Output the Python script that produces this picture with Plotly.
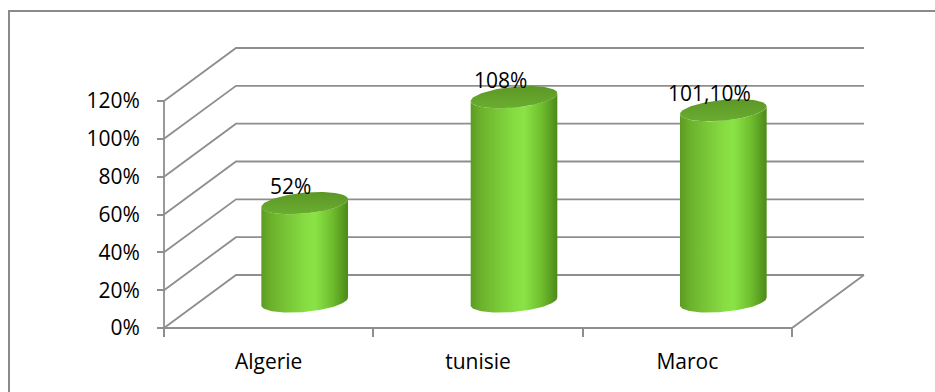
import numpy as np
import plotly.graph_objects as go

# ---- data ----
categories = ["Algerie", "tunisie", "Maroc"]
values = [0.52, 1.08, 1.011]
value_labels = ["52%", "108%", "101,10%"]
tick_values = [0.0, 0.2, 0.4, 0.6, 0.8, 1.0, 1.2]
tick_labels = ["0%", "20%", "40%", "60%", "80%", "100%", "120%"]

# ---- page / projection setup (pixels) ----
W, H = 935, 392
PLOT_L, PLOT_R, PLOT_T, PLOT_B = 150, 880, 30, 345   # plotting box
X0, SX = 164.0, 628.0 / 3.0      # pixel of x=-0.5 and pixels per category
Y0, SY = 328.0, 227.0 / 1.2      # pixel of 0% and pixels per 100%
DEPTH_PX = (72.0, 53.0)          # oblique offset of the back wall

DX = DEPTH_PX[0] / SX            # depth offset in x data units
DV = DEPTH_PX[1] / SY            # depth offset in value units

x_range = [-0.5 - (X0 - PLOT_L) / SX, -0.5 + (PLOT_R - X0) / SX]
y_range = [-(PLOT_B - Y0) / SY, (Y0 - PLOT_T) / SY]

n = len(categories)
x_lo, x_hi = -0.5, n - 0.5
v_max = tick_values[-1]

GRID = "#8e8e8e"
FONT = dict(family="Open Sans, Noto Sans, sans-serif", size=21, color="#000000")

fig = go.Figure()

# ---- walls, floor and grid ----
gx, gy = [], []
for v in tick_values:
    gx += [x_lo, x_lo + DX, x_hi + DX, None]
    gy += [v, v + DV, v + DV, None]
gx += [x_lo, x_hi, x_hi + DX, None, x_lo, x_lo]
gy += [0, 0, DV, None, 0, v_max]
fig.add_trace(go.Scatter(x=gx, y=gy, mode="lines",
                         line=dict(color=GRID, width=1.8),
                         hoverinfo="skip", showlegend=False))

# ---- cylinders ----
R_X = 40.6 / SX          # half width of a cylinder (x units)
R_D = 0.21               # cylinder radius as a fraction of the floor depth
CX, CV = R_D * DX, R_D * DV
theta0 = np.arctan2(CX, R_X)

def ellipse(cx, cv, t):
    return cx + R_X * np.cos(t) + CX * np.sin(t), cv + CV * np.sin(t)

body_scale = [[0.0, "#5c9b22"], [0.12, "#6cb22c"], [0.5, "#86dc42"],
              [0.62, "#8ae346"], [0.82, "#6fbd2e"], [1.0, "#4c8a18"]]

for i, val in enumerate(values):
    cx = i + DX / 2
    v_base = DV / 2
    v_top = val + DV / 2

    t_front = np.linspace(theta0, theta0 - np.pi, 80)
    bx, by = ellipse(cx, v_base, t_front)
    tx, ty = ellipse(cx, v_top, t_front[::-1])
    fig.add_trace(go.Scatter(
        x=np.concatenate([bx, tx, bx[:1]]),
        y=np.concatenate([by, ty, by[:1]]),
        mode="lines", fill="toself", line=dict(width=0, color="rgba(0,0,0,0)"),
        fillgradient=dict(type="horizontal", colorscale=body_scale),
        hoverinfo="skip", showlegend=False))

    t_all = np.linspace(0, 2 * np.pi, 120)
    cxs, cys = ellipse(cx, v_top, t_all)
    fig.add_trace(go.Scatter(
        x=cxs, y=cys, mode="lines", fill="toself",
        line=dict(width=0, color="rgba(0,0,0,0)"),
        fillgradient=dict(type="vertical",
                          colorscale=[[0, "#6aad30"], [0.5, "#63a22b"], [1, "#5c9726"]]),
        hoverinfo="skip", showlegend=False))

    fig.add_annotation(x=cx, y=v_top, xref="x", yref="y", text=value_labels[i],
                       showarrow=False, xshift=-14, yshift=17,
                       xanchor="center", yanchor="middle", font=FONT)

# ---- axes ----
plot_w = PLOT_R - PLOT_L
plot_h = PLOT_B - PLOT_T
fig.update_layout(
    width=W, height=H,
    margin=dict(l=PLOT_L, r=W - PLOT_R, t=PLOT_T, b=H - PLOT_B),
    paper_bgcolor="white", plot_bgcolor="white",
    showlegend=False,
    xaxis=dict(range=x_range, domain=[0, 1], anchor="free",
               position=(PLOT_B - Y0) / plot_h,
               tickvals=list(range(n)), ticktext=categories,
               ticks="", showgrid=False, zeroline=False, showline=False,
               tickfont=FONT, ticklabelstandoff=19, fixedrange=True),
    xaxis2=dict(range=x_range, overlaying="x", anchor="free",
                position=(PLOT_B - Y0) / plot_h,
                tickvals=[k - 0.5 for k in range(n + 1)],
                showticklabels=False, ticks="outside", ticklen=8,
                tickcolor=GRID, tickwidth=1.8,
                showgrid=False, zeroline=False, showline=False, fixedrange=True),
    yaxis=dict(range=y_range, domain=[0, 1], anchor="free",
               position=(X0 - PLOT_L) / plot_w,
               tickvals=tick_values, ticktext=tick_labels,
               ticks="outside", ticklen=7, tickcolor=GRID, tickwidth=1.8,
               showgrid=False, zeroline=False, showline=False,
               tickfont=FONT, ticklabelstandoff=13, fixedrange=True),
)
# an invisible trace keeps the secondary x axis active
fig.add_trace(go.Scatter(x=[x_lo], y=[0], xaxis="x2", mode="markers",
                         marker=dict(opacity=0), hoverinfo="skip", showlegend=False))

# ---- outer chart frame ----
fig.add_shape(type="rect", xref="paper", yref="paper",
              x0=(9 - PLOT_L) / plot_w, x1=(W + 20 - PLOT_L) / plot_w,
              y0=(PLOT_B - (H + 20)) / plot_h, y1=(PLOT_B - 11) / plot_h,
              line=dict(color="#8a8a8a", width=2), layer="below")

fig.write_html("out.html")
